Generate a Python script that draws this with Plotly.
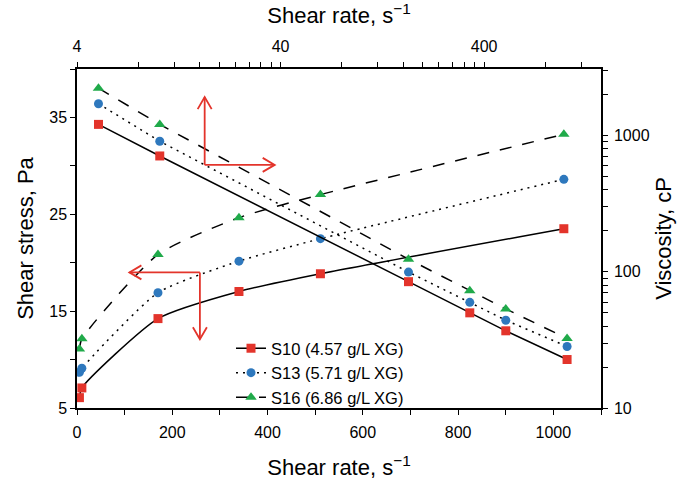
import plotly.graph_objects as go
import math

# ---- data ----
shear_rate = [5.1, 10.2, 170, 340, 511, 1022]          # s^-1
stress_s10 = [6.07, 7.07, 14.23, 17.03, 18.86, 23.51]   # Pa
stress_s13 = [8.68, 9.10, 16.90, 20.16, 22.48, 28.61]
stress_s16 = [11.10, 12.14, 20.85, 24.65, 27.03, 33.26]
visc_s10 = [1211, 710, 84.7, 50.0, 36.9, 22.7]          # cP
visc_s13 = [1718, 910, 99.6, 59.7, 44.1, 28.3]
visc_s16 = [2234, 1211, 124, 72.8, 53.4, 32.4]

names = ["S10 (4.57 g/L XG)", "S13 (5.71 g/L XG)", "S16 (6.86 g/L XG)"]
stress = [stress_s10, stress_s13, stress_s16]
visc = [visc_s10, visc_s13, visc_s16]

bottom_ticks = list(range(0, 1101, 100))
left_ticks = list(range(5, 41, 5))

RED = "#e3342b"
BLUE = "#2e78bd"
GREEN = "#20aa4a"
colors = [RED, BLUE, GREEN]
symbols = ["square", "circle", "triangle-up"]
msizes = [9, 9, 10]
dashes = ["solid", "2px,5px", "12px,11px"]

FONT = "Liberation Sans, Arial, sans-serif"

fig = go.Figure()
for i in range(3):
    fig.add_trace(go.Scatter(
        x=shear_rate, y=stress[i], mode="lines+markers", name=names[i],
        line=dict(color="black", width=1.5, dash=dashes[i], shape="spline", smoothing=0.6),
        marker=dict(color=colors[i], symbol=symbols[i], size=msizes[i]),
        xaxis="x", yaxis="y"))
for i in range(3):
    fig.add_trace(go.Scatter(
        x=shear_rate, y=visc[i], mode="lines+markers", showlegend=False,
        line=dict(color="black", width=1.5, dash=dashes[i]),
        marker=dict(color=colors[i], symbol=symbols[i], size=msizes[i]),
        xaxis="x2", yaxis="y2"))

# minor tick values on log axes
top_vals, top_text = [], []
for dec in [4, 40, 400]:
    for k in range(1, 10):
        v = dec * k
        if v <= 1500:
            top_vals.append(v)
            top_text.append(str(v) if k == 1 else "")
right_vals, right_text = [], []
for dec in [10, 100, 1000]:
    for k in range(1, 10):
        v = dec * k
        if v <= 3100:
            right_vals.append(v)
            right_text.append(str(v) if k == 1 else "")

axis_common = dict(showline=True, linecolor="black", linewidth=1.5, ticks="outside",
                   ticklen=5, tickwidth=1.2, tickcolor="black", showgrid=False,
                   zeroline=False, tickfont=dict(size=16, color="black", family=FONT),
                   mirror=False, automargin=False)

X0, X1 = 0, 1100
Y0, Y1 = 5, 40
W, H = 685, 488
ML, MR, MT, MB = 77, 84, 69, 80
PW, PH = W - ML - MR, H - MT - MB
TF = dict(size=22, family=FONT, color="black")

fig.update_layout(
    width=W, height=H,
    margin=dict(l=ML, r=MR, t=MT, b=MB, autoexpand=False),
    plot_bgcolor="white", paper_bgcolor="white",
    font=dict(family=FONT, color="black"),
    xaxis=dict(range=[X0, X1], tickvals=bottom_ticks,
               ticktext=[str(v) if v % 200 == 0 else "" for v in bottom_ticks],
               ticklabelstandoff=4,
               title=dict(text="Shear rate, s<sup>−1</sup>", font=TF, standoff=20),
               **axis_common),
    yaxis=dict(range=[Y0, Y1], tickvals=left_ticks,
               ticktext=[str(v) if v % 10 == 5 else "" for v in left_ticks],
               title=dict(text="Shear stress, Pa", font=TF, standoff=10),
               **axis_common),
    xaxis2=dict(type="log", range=[math.log10(4), math.log10(1500)], overlaying="x",
                side="top", anchor="y", tickvals=top_vals, ticktext=top_text,
                ticklabelstandoff=4,
                title=dict(text="Shear rate, s<sup>−1</sup>", font=TF, standoff=10),
                **axis_common),
    yaxis2=dict(type="log", range=[1, 3.49], overlaying="y", side="right", anchor="x",
                tickvals=right_vals, ticktext=right_text, ticklabelstandoff=3,
                title=dict(text="Viscosity, cP", font=TF, standoff=7),
                **axis_common),
    legend=dict(x=(231 - ML) / PW, y=(H - MB - 331) / PH, xanchor="left", yanchor="top",
                bgcolor="rgba(0,0,0,0)", font=dict(size=16.5, family=FONT),
                tracegroupgap=0, itemwidth=30),
)

# red indicator arrows (open chevron heads)
sx = PW / (X1 - X0)   # px per data unit x
sy = PH / (Y1 - Y0)   # px per data unit y

def seg(xa, ya, xb, yb):
    fig.add_shape(type="line", x0=xa, y0=ya, x1=xb, y1=yb, xref="x", yref="y",
                  line=dict(color=RED, width=1.8), layer="above")

def head(tx, ty, direction, L=12, Wd=7):
    dx, dy = direction
    px, py = -dy, dx
    a = (tx + (-dx * L + px * Wd) / sx, ty + (-dy * L + py * Wd) / sy)
    b = (tx + (-dx * L - px * Wd) / sx, ty + (-dy * L - py * Wd) / sy)
    path = f"M {a[0]},{a[1]} L {tx},{ty} L {b[0]},{b[1]}"
    fig.add_shape(type="path", path=path, xref="x", yref="y",
                  line=dict(color=RED, width=1.8), layer="above")

# arrow 1: up & right (viscosity -> top/right axes)
c1x, c1y = 268, 30.1
seg(c1x, c1y, c1x, 37.1); head(c1x, 37.1, (0, 1))
seg(c1x, c1y, 415, c1y); head(415, c1y, (1, 0))
# arrow 2: left & down (stress -> bottom/left axes)
c2x, c2y = 258, 19.0
seg(c2x, c2y, 110, c2y); head(110, c2y, (-1, 0))
seg(c2x, c2y, c2x, 12.1); head(c2x, 12.1, (0, -1))

fig.write_html("out.html", config={"displayModeBar": False},
               post_script="document.body.style.margin='0px';")
